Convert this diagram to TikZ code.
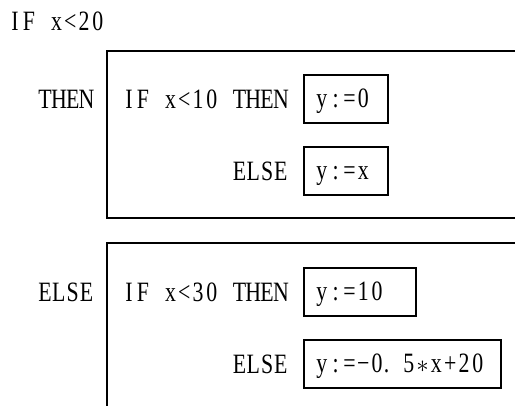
\documentclass[tikz,border=0pt]{standalone}
\usepackage{fontspec}
\setmainfont{Liberation Serif}[FakeStretch=0.78]
\newlength\cw \setlength\cw{13.8pt}
\makeatletter
\newcommand\mcell[1]{\makebox[\cw][c]{#1}}
\newcommand\mono[1]{\@tfor\@mch:=#1\do{\mcell{\@mch}}}
\makeatother
\tikzset{
  lbl/.style={anchor=base west, inner sep=0pt},
  valbox/.style={draw, line width=2pt, anchor=north west, inner xsep=0pt, inner ysep=0pt,
    minimum height=48pt, text height=22pt, text depth=4pt},
  frame/.style={line width=2pt}
}
\begin{document}
\begin{tikzpicture}[x=1pt,y=-1pt,font=\fontsize{28}{32}\selectfont]
\useasboundingbox (0,0) rectangle (515,406);
% frames
\coordinate (f1tr) at (516,51);
\coordinate (f1tl) at (107,51);
\coordinate (f1bl) at (107,218);
\coordinate (f1br) at (516,218);
\coordinate (f2tr) at (516,243);
\coordinate (f2tl) at (107,243);
\coordinate (f2b) at (107,407);
\draw[frame] (f1tr) -- (f1tl) -- (f1bl) -- (f1br);
\draw[frame] (f2tr) -- (f2tl) -- (f2b);
% texts
\node[lbl] (if0) at (8,31) {\mono{IF~x<20}};
\node[lbl] (then0) at (38,109) {\mono{THEN}};
\node[lbl] (if1) at (122,109) {\mono{IF~x<10~THEN}};
\node[valbox] (v1) at (303,74) {\makebox[84pt][l]{\hspace{11pt}\mono{y:=0}}};
\node[lbl] (else1) at (232.4,181) {\mono{ELSE}};
\node[valbox] (v2) at (303,146) {\makebox[84pt][l]{\hspace{11pt}\mono{y:=x}}};
\node[lbl] (else0) at (38,301.5) {\mono{ELSE}};
\node[lbl] (if2) at (122,301.5) {\mono{IF~x<30~THEN}};
\node[valbox] (v3) at (303,267) {\makebox[112pt][l]{\hspace{11pt}\mono{y:=10}}};
\node[lbl] (else2) at (232.4,373.5) {\mono{ELSE}};
\node[valbox] (v4) at (303,339) {\makebox[197pt][l]{\hspace{11pt}\mono{y:=}\mcell{−}\mono{0}\makebox[1.3\cw][l]{.}\mono{5}\mcell{\fontsize{36}{36}\selectfont$\ast$}\mono{x+20}}};
\end{tikzpicture}
\end{document}
